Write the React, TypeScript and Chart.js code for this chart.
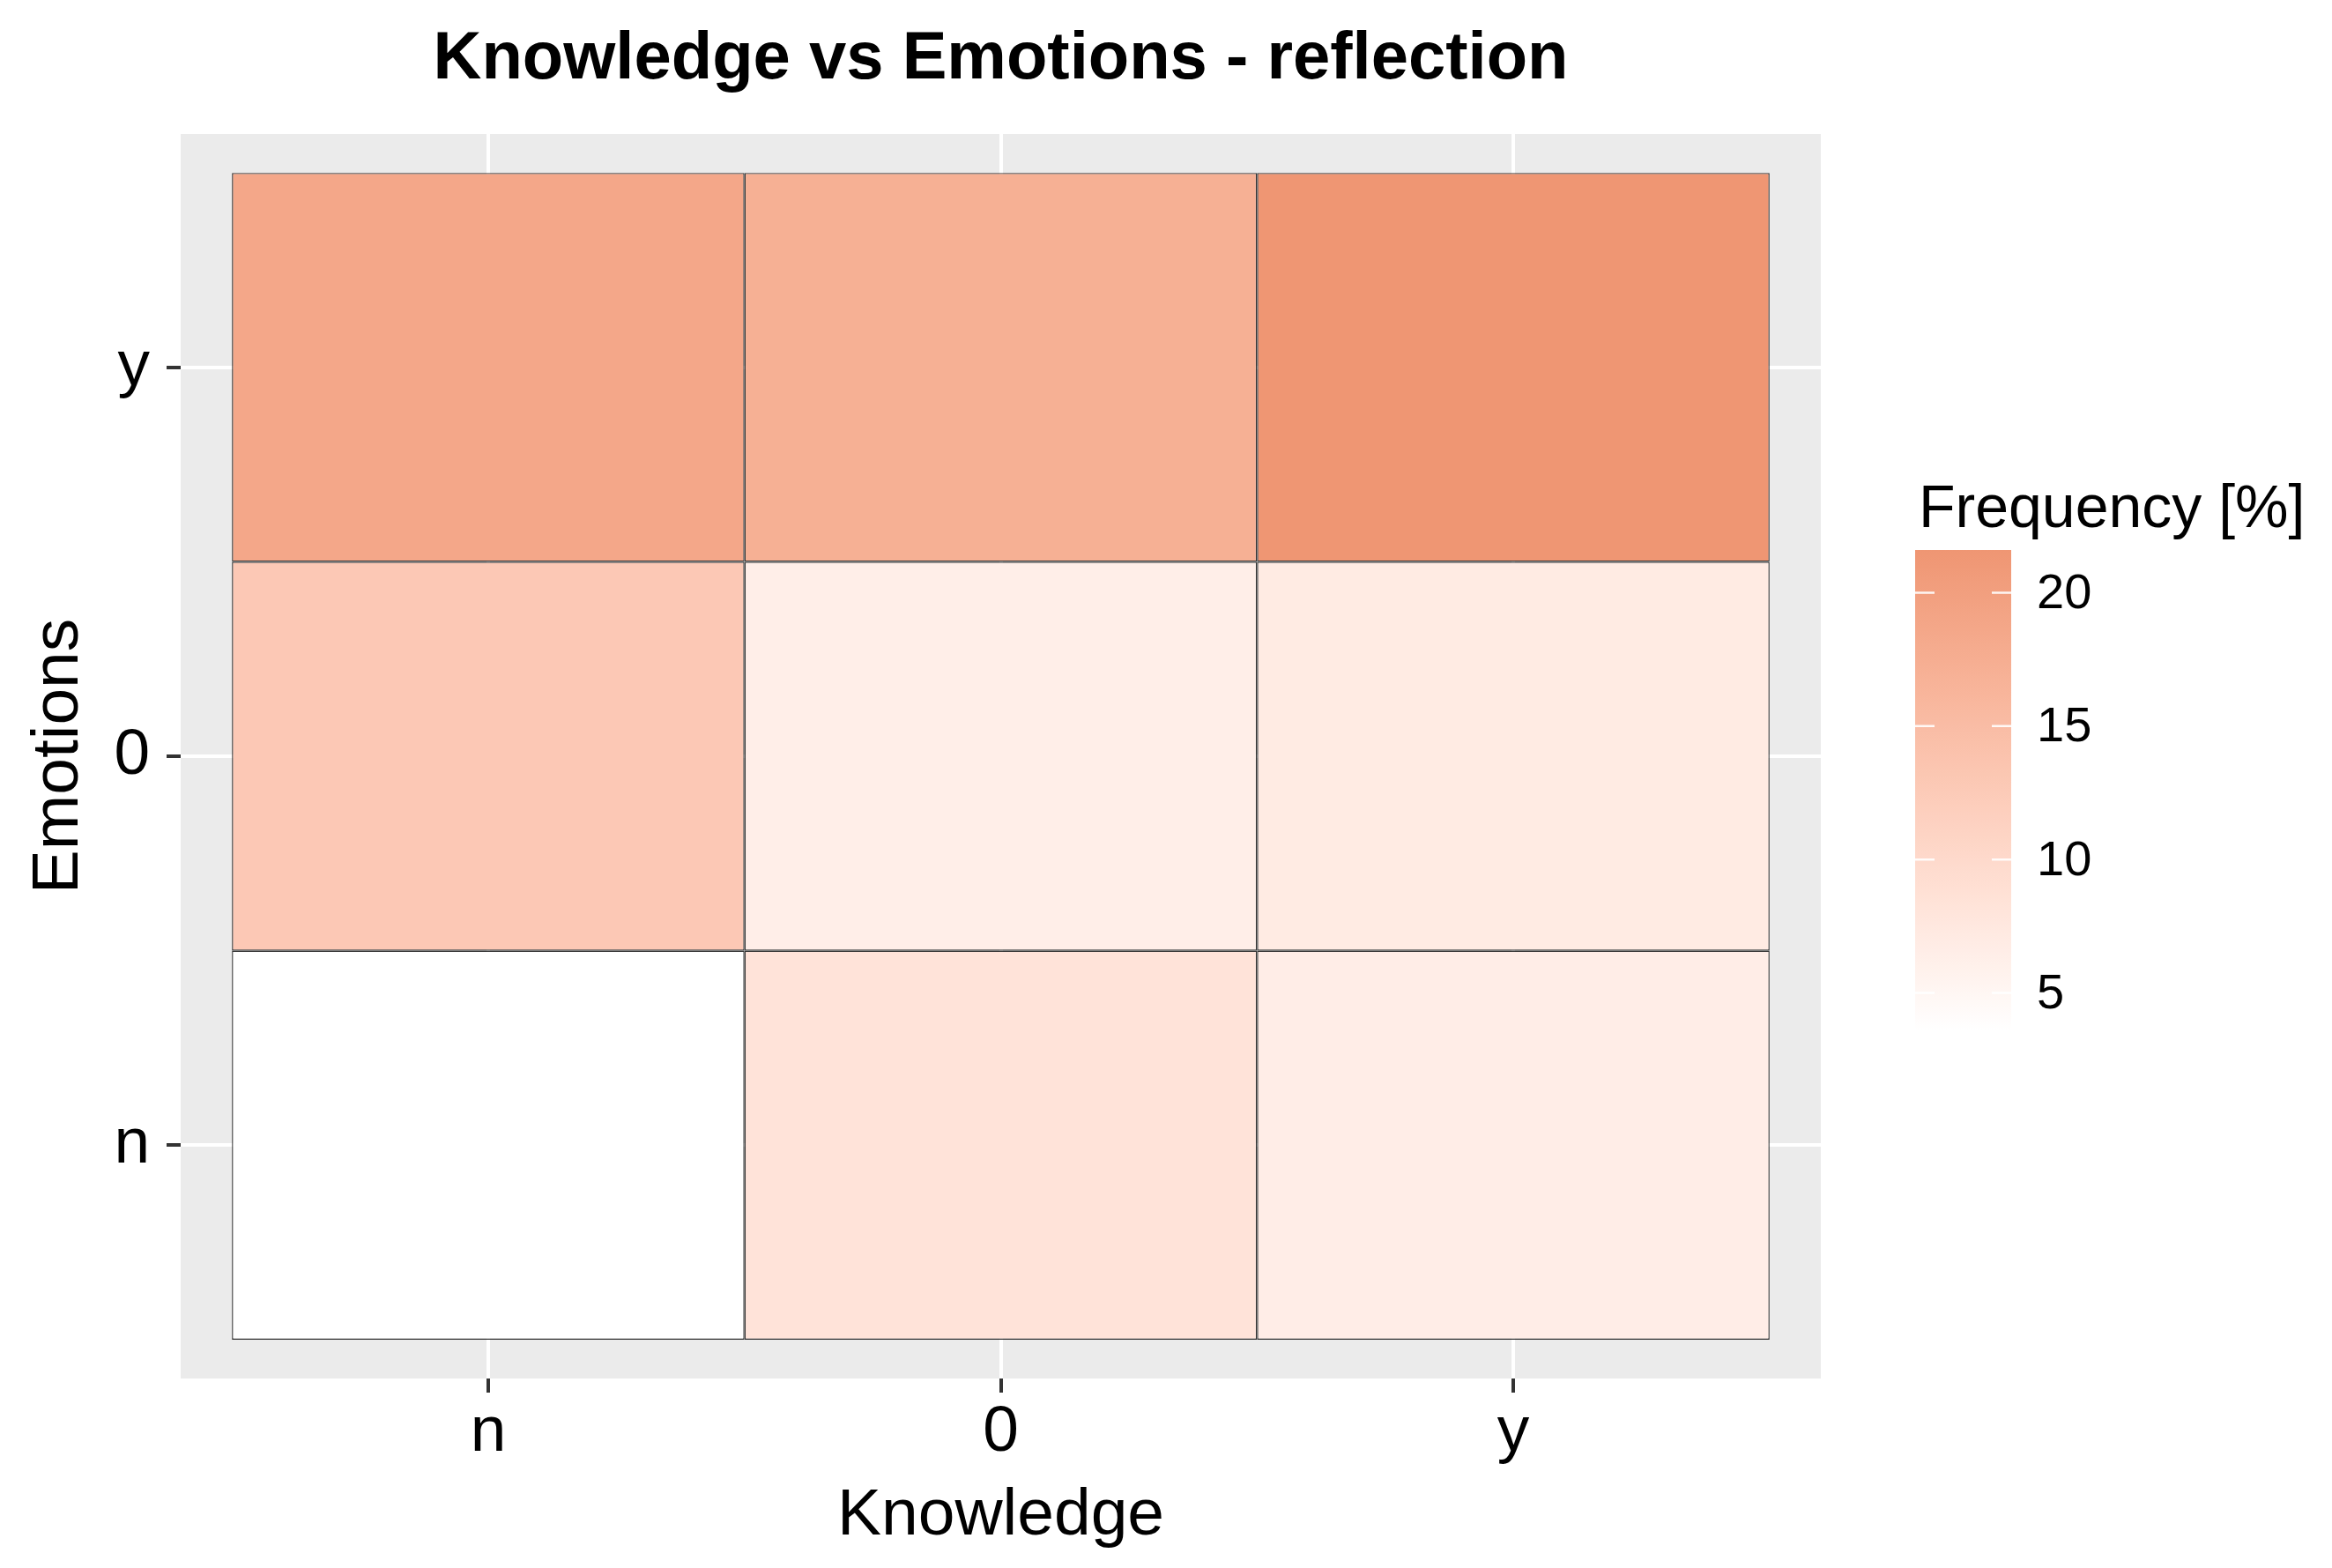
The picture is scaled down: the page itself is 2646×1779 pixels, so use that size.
import React, { useEffect, useRef } from 'react';
import { Chart, registerables } from 'chart.js';

Chart.register(...registerables);

// ---- data ----
const knowledgeLevels = ['n', '0', 'y'];
const emotionLevels = ['n', '0', 'y']; // bottom to top
// Frequency [%] per Emotions row, across Knowledge n / 0 / y
const freqEmotionN = [3.6, 8.3, 6.6];
const freqEmotion0 = [12.9, 6.4, 7.0];
const freqEmotionY = [18.6, 17.2, 21.6];
const legendTicks = [5, 10, 15, 20];

const chartTitle = 'Knowledge vs Emotions - reflection';
const xTitle = 'Knowledge';
const yTitle = 'Emotions';
const legendTitle = 'Frequency [%]';

const lowColor = '#FFFFFF';
const highColor = '#EF9673';
const FONT = "'Liberation Sans', Arial, Helvetica, sans-serif";

// ---- colour helpers (Lab interpolation like ggplot's gradient) ----
function hexToRgb(h: string): number[] {
  const s = h.replace('#', '');
  return [0, 2, 4].map((i) => parseInt(s.slice(i, i + 2), 16));
}
function toLin(c: number) {
  const v = c / 255;
  return v <= 0.04045 ? v / 12.92 : Math.pow((v + 0.055) / 1.055, 2.4);
}
function fromLin(c: number) {
  const v = c <= 0.0031308 ? 12.92 * c : 1.055 * Math.pow(c, 1 / 2.4) - 0.055;
  return Math.round(Math.min(1, Math.max(0, v)) * 255);
}
const XN = 0.95047, YN = 1, ZN = 1.08883;
function fLab(t: number) {
  return t > 0.008856 ? Math.cbrt(t) : 7.787 * t + 16 / 116;
}
function fInv(t: number) {
  const t3 = t * t * t;
  return t3 > 0.008856 ? t3 : (t - 16 / 116) / 7.787;
}
function rgbToLab(rgb: number[]) {
  const [R, G, B] = rgb.map(toLin);
  const X = 0.4124 * R + 0.3576 * G + 0.1805 * B;
  const Y = 0.2126 * R + 0.7152 * G + 0.0722 * B;
  const Z = 0.0193 * R + 0.1192 * G + 0.9505 * B;
  const fx = fLab(X / XN), fy = fLab(Y / YN), fz = fLab(Z / ZN);
  return [116 * fy - 16, 500 * (fx - fy), 200 * (fy - fz)];
}
function labToRgb(lab: number[]) {
  const [L, a, b] = lab;
  const fy = (L + 16) / 116;
  const fx = fy + a / 500;
  const fz = fy - b / 200;
  const X = XN * fInv(fx), Y = YN * fInv(fy), Z = ZN * fInv(fz);
  const R = 3.2406 * X - 1.5372 * Y - 0.4986 * Z;
  const G = -0.9689 * X + 1.8758 * Y + 0.0415 * Z;
  const B = 0.0557 * X - 0.204 * Y + 1.057 * Z;
  return [fromLin(R), fromLin(G), fromLin(B)];
}
const labLow = rgbToLab(hexToRgb(lowColor));
const labHigh = rgbToLab(hexToRgb(highColor));
const allValues = [...freqEmotionN, ...freqEmotion0, ...freqEmotionY];
const vMin = Math.min(...allValues);
const vMax = Math.max(...allValues);
function colorFor(v: number) {
  const t = Math.min(1, Math.max(0, (v - vMin) / (vMax - vMin)));
  const lab = labLow.map((l, i) => l + (labHigh[i] - l) * t);
  const [r, g, b] = labToRgb(lab);
  return `rgb(${r},${g},${b})`;
}

const legendPlugin = {
  id: 'panelAndLegend',
  beforeDraw(chart: any) {
    const { ctx, chartArea } = chart;
    ctx.save();
    ctx.fillStyle = '#EBEBEB';
    ctx.fillRect(chartArea.left, chartArea.top, chartArea.right - chartArea.left, chartArea.bottom - chartArea.top);
    ctx.restore();
  },
  afterDraw(chart: any) {
    const { ctx } = chart;
    const x0 = 2173, x1 = 2282, y0 = 624, y1 = 1169;
    const yFor = (v: number) => y1 - ((v - vMin) / (vMax - vMin)) * (y1 - y0);
    ctx.save();
    const grad = ctx.createLinearGradient(0, y1, 0, y0);
    for (let i = 0; i <= 30; i++) {
      const t = i / 30;
      grad.addColorStop(t, colorFor(vMin + t * (vMax - vMin)));
    }
    ctx.fillStyle = grad;
    ctx.fillRect(x0, y0, x1 - x0, y1 - y0);
    ctx.strokeStyle = 'rgba(255,255,255,0.9)';
    ctx.lineWidth = 2.5;
    ctx.fillStyle = '#000';
    ctx.font = `56px ${FONT}`;
    ctx.textAlign = 'left';
    ctx.textBaseline = 'middle';
    legendTicks.forEach((tv) => {
      const y = yFor(tv);
      ctx.beginPath();
      ctx.moveTo(x0, y);
      ctx.lineTo(x0 + 22, y);
      ctx.moveTo(x1 - 22, y);
      ctx.lineTo(x1, y);
      ctx.stroke();
      ctx.fillText(String(tv), 2311, y + 2);
    });
    ctx.font = `68px ${FONT}`;
    ctx.textBaseline = 'alphabetic';
    ctx.fillText(legendTitle, 2177, 598);
    ctx.restore();
  },
};

export default function App() {
  const canvasRef = useRef<HTMLCanvasElement | null>(null);

  useEffect(() => {
    const canvas = canvasRef.current;
    if (!canvas) return;
    const rows = [freqEmotionN, freqEmotion0, freqEmotionY];
    const cells = rows.flatMap((row, j) =>
      row.map((v, i) => ({ x: i + 1, y: [j + 0.5, j + 1.5], v }))
    );

    const chart = new Chart(canvas, {
      type: 'bar',
      data: {
        datasets: [
          {
            data: cells as any,
            backgroundColor: cells.map((c) => colorFor(c.v)),
            borderColor: 'rgba(0,0,0,0.78)',
            borderWidth: 1.4,
            borderSkipped: false,
            inflateAmount: 0,
            barPercentage: 1,
            categoryPercentage: 1,
          } as any,
        ],
      },
      options: {
        animation: false,
        responsive: false,
        devicePixelRatio: 1,
        events: [],
        layout: { padding: { left: 0, right: 580, top: 0, bottom: 0 } },
        plugins: {
          legend: { display: false },
          tooltip: { enabled: false },
          title: {
            display: true,
            text: chartTitle,
            fullSize: false,
            color: '#000',
            font: { family: FONT, size: 76, weight: 'bold', lineHeight: 1.2 },
            padding: { top: 22.4, bottom: 38.4 },
          },
        },
        scales: {
          x: {
            type: 'linear',
            min: 0.4,
            max: 3.6,
            offset: false,
            afterBuildTicks: (s: any) => {
              s.ticks = knowledgeLevels.map((_, i) => ({ value: i + 1 }));
            },
            afterFit: (s: any) => {
              s.height = 215;
            },
            ticks: {
              callback: (v: any) => knowledgeLevels[Number(v) - 1] ?? '',
              color: '#000',
              font: { family: FONT, size: 73, lineHeight: 1.2 },
              padding: 2,
              maxRotation: 0,
              autoSkip: false,
            },
            grid: {
              offset: false,
              color: '#FFFFFF',
              lineWidth: 4,
              drawTicks: true,
              tickLength: 16,
              tickColor: '#333333',
              tickWidth: 4,
            },
            border: { display: false },
            title: {
              display: true,
              text: xTitle,
              color: '#000',
              font: { family: FONT, size: 75, lineHeight: 1.2 },
              padding: { top: 0, bottom: 14 },
            },
          },
          y: {
            type: 'linear',
            min: 0.4,
            max: 3.6,
            offset: false,
            afterBuildTicks: (s: any) => {
              s.ticks = emotionLevels.map((_, i) => ({ value: i + 1 }));
            },
            afterFit: (s: any) => {
              s.width = 205;
            },
            ticks: {
              callback: (v: any) => emotionLevels[Number(v) - 1] ?? '',
              color: '#000',
              font: { family: FONT, size: 73, lineHeight: 1.2 },
              padding: 19,
              autoSkip: false,
            },
            grid: {
              color: '#FFFFFF',
              lineWidth: 4,
              drawTicks: true,
              tickLength: 16,
              tickColor: '#333333',
              tickWidth: 4,
            },
            border: { display: false },
            title: {
              display: true,
              text: yTitle,
              color: '#000',
              font: { family: FONT, size: 75, lineHeight: 1.2 },
              padding: { top: 22.5, bottom: 0 },
            },
          },
        },
      } as any,
      plugins: [legendPlugin],
    });
    return () => chart.destroy();
  }, []);

  return (
    <div style={{ position: 'fixed', left: 0, top: 0, width: 2646, height: 1779, background: '#fff' }}>
      <canvas ref={canvasRef} width={2646} height={1779} style={{ width: 2646, height: 1779, display: 'block' }} />
    </div>
  );
}
